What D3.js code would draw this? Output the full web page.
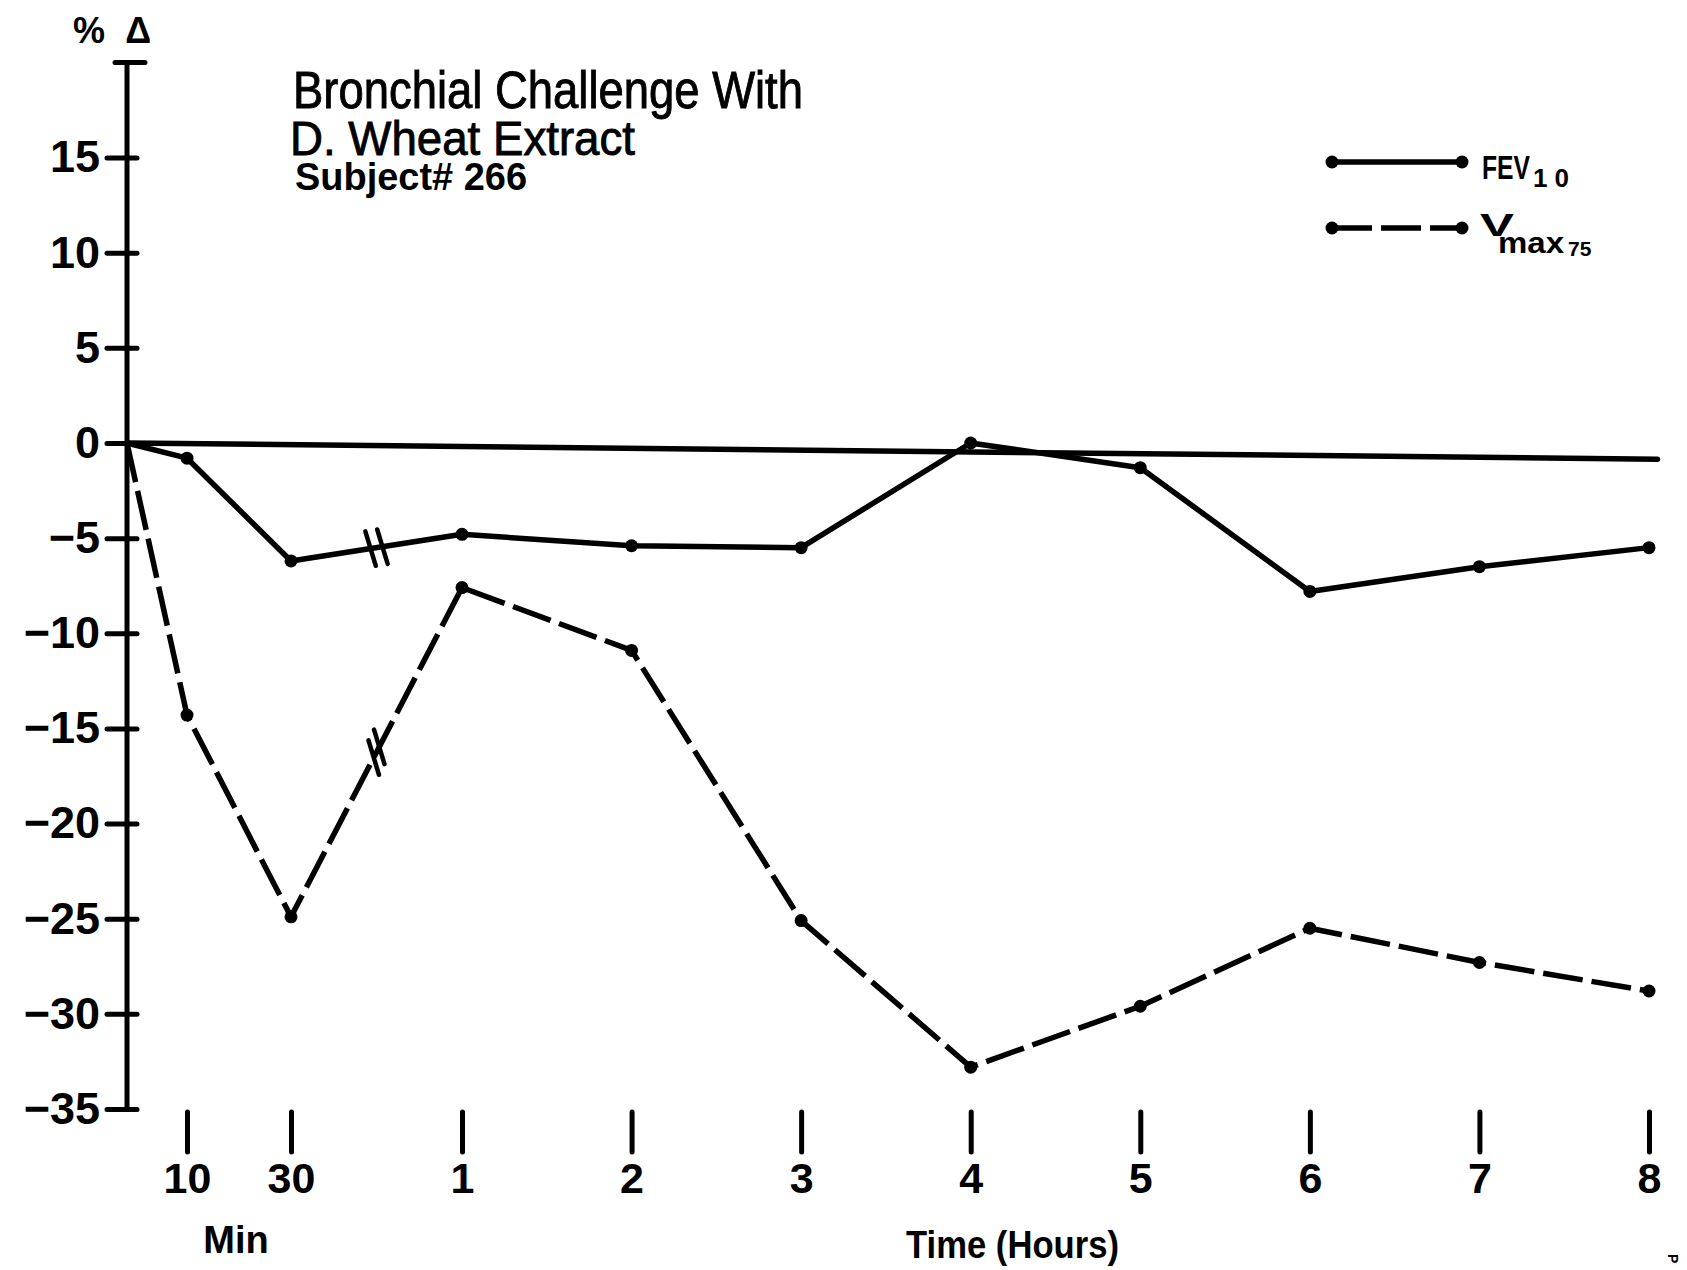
<!DOCTYPE html>
<html>
<head>
<meta charset="utf-8">
<script src="https://cdn.jsdelivr.net/npm/d3@7"></script>
<style>
  body { margin: 0; background: #fff; }
  text { font-family: 'Liberation Sans', Arial, sans-serif; fill: #000; }
</style>
</head>
<body>
<script>
// time of each reading, in minutes after challenge
const minutes = [0, 10, 30, 60, 120, 180, 240, 300, 360, 420, 480]
// % change from baseline
const fev = [0, -0.8, -6.2, -4.8, -5.4, -5.5, 0, -1.3, -7.8, -6.5, -5.5]
const vmax = [0, -14.3, -24.9, -7.6, -10.9, -25.1, -32.8, -29.6, -25.5, -27.3, -28.8]

const xTickMinutes = [10, 30, 60, 120, 180, 240, 300, 360, 420, 480]
const xTickLabels = ['10', '30', '1', '2', '3', '4', '5', '6', '7', '8']
const yTicks = [15, 10, 5, 0, -5, -10, -15, -20, -25, -30, -35]

// hand drawn reference line, slightly off level
const zeroMinutes = [0, 483]
const zeroValues = [0, -0.85]

const svg = d3.select('body').append('svg')
  .attr('width', 1687)
  .attr('height', 1270)

// broken axis: minutes part stretched, then hours evenly spaced
const x = d3.scaleLinear()
  .domain([0, 10, 30, 60, 480])
  .range([127, 187, 291, 462, 1649])

const y = d3.scaleLinear()
  .domain([-35, 20])
  .range([1109, 443 - 20 * 19.03])

const axisX = 127

// y axis
const yAxis = svg.append('g')
  .attr('transform', `translate(${axisX},0)`)
  .call(d3.axisLeft(y).tickValues(yTicks).tickSize(20).tickPadding(7)
    .tickFormat((d) => d < 0 ? '\u2212' + Math.abs(d) : d))

yAxis.select('.domain').remove()
yAxis.selectAll('.tick line')
  .attr('x1', 10)
  .attr('stroke', '#000')
  .attr('stroke-width', 5)
  .attr('stroke-linecap', 'round')
yAxis.selectAll('.tick text')
  .attr('font-size', 45)
  .attr('font-family', 'Liberation Sans')
  .attr('font-weight', 'bold')

svg.append('line')
  .attr('x1', axisX).attr('x2', axisX)
  .attr('y1', y(20)).attr('y2', y(-35))
  .attr('stroke', '#000').attr('stroke-width', 5)

svg.append('line')
  .attr('x1', axisX - 12).attr('x2', axisX + 18)
  .attr('y1', y(20)).attr('y2', y(20))
  .attr('stroke', '#000').attr('stroke-width', 5).attr('stroke-linecap', 'round')

svg.append('text')
  .attr('x', 73).attr('y', 43)
  .attr('font-size', 36).attr('font-weight', 'bold')
  .attr('textLength', 78).attr('lengthAdjust', 'spacing')
  .text('%\u0394')

// x axis, ticks only
const xAxis = svg.append('g')
  .attr('transform', 'translate(0,1112)')
  .call(d3.axisBottom(x).tickValues(xTickMinutes).tickSize(40).tickPadding(10)
    .tickFormat((d, i) => xTickLabels[i]))

xAxis.select('.domain').remove()
xAxis.selectAll('.tick line')
  .attr('stroke', '#000')
  .attr('stroke-width', 5)
  .attr('stroke-linecap', 'round')
xAxis.selectAll('.tick text')
  .attr('font-size', 43)
  .attr('font-family', 'Liberation Sans')
  .attr('font-weight', 'bold')

svg.append('text')
  .attr('x', 236).attr('y', 1253)
  .attr('text-anchor', 'middle')
  .attr('font-size', 38).attr('font-weight', 'bold')
  .text('Min')

svg.append('text')
  .attr('x', 906).attr('y', 1258)
  .attr('font-size', 38).attr('font-weight', 'bold')
  .attr('textLength', 213).attr('lengthAdjust', 'spacingAndGlyphs')
  .text('Time (Hours)')

// title block
svg.append('text')
  .attr('x', 293).attr('y', 108)
  .attr('font-size', 51)
  .attr('stroke', '#000').attr('stroke-width', 0.9)
  .attr('textLength', 510).attr('lengthAdjust', 'spacingAndGlyphs')
  .text('Bronchial Challenge With')

svg.append('text')
  .attr('x', 290).attr('y', 155)
  .attr('font-size', 49)
  .attr('stroke', '#000').attr('stroke-width', 0.9)
  .attr('textLength', 345).attr('lengthAdjust', 'spacingAndGlyphs')
  .text('D. Wheat Extract')

svg.append('text')
  .attr('x', 295).attr('y', 190)
  .attr('font-size', 38).attr('font-weight', 'bold')
  .attr('textLength', 232).attr('lengthAdjust', 'spacingAndGlyphs')
  .text('Subject# 266')

// zero reference line
const zeroPts = zeroMinutes.map((m, i) => [x(m), y(zeroValues[i])])
svg.append('path')
  .attr('d', d3.line()(zeroPts))
  .attr('fill', 'none')
  .attr('stroke', '#000')
  .attr('stroke-width', 5.5)
  .attr('stroke-linecap', 'round')

const series = [
  { values: fev, dash: null },
  { values: vmax, dash: '40,9' }
]

const line = d3.line()
  .x((d) => x(d.m))
  .y((d) => y(d.v))

series.forEach((s) => {
  const pts = minutes.map((m, i) => ({ m: m, v: s.values[i] }))

  svg.append('path')
    .attr('d', line(pts))
    .attr('fill', 'none')
    .attr('stroke', '#000')
    .attr('stroke-width', 5.5)
    .attr('stroke-linejoin', 'round')
    .attr('stroke-dasharray', s.dash)

  svg.selectAll(null)
    .data(pts.slice(1))
    .enter()
    .append('circle')
    .attr('cx', (d) => x(d.m))
    .attr('cy', (d) => y(d.v))
    .attr('r', 6.5)
    .attr('fill', '#000')

  // axis break mark on the 30 min - 1 h segment
  const a = pts[2]
  const b = pts[3]
  const mx = (x(a.m) + x(b.m)) / 2
  const my = (y(a.v) + y(b.v)) / 2
  const len = Math.hypot(x(b.m) - x(a.m), y(b.v) - y(a.v))
  const ux = (x(b.m) - x(a.m)) / len
  const uy = (y(b.v) - y(a.v)) / len
  ;[-6, 6].forEach((o) => {
    const cx = mx + ux * o
    const cy = my + uy * o
    svg.append('line')
      .attr('x1', cx - 0.29 * 18).attr('y1', cy - 0.957 * 18)
      .attr('x2', cx + 0.29 * 18).attr('y2', cy + 0.957 * 18)
      .attr('stroke', '#000')
      .attr('stroke-width', 4.5)
      .attr('stroke-linecap', 'round')
  })
})

// legend
const legend = svg.append('g')
const legendRows = [{ y: 162, dash: null }, { y: 228, dash: '40,9' }]
legendRows.forEach((r) => {
  legend.append('line')
    .attr('x1', 1332).attr('x2', 1462)
    .attr('y1', r.y).attr('y2', r.y)
    .attr('stroke', '#000').attr('stroke-width', 5.5)
    .attr('stroke-dasharray', r.dash)
  ;[1332, 1462].forEach((cx) => {
    legend.append('circle')
      .attr('cx', cx).attr('cy', r.y).attr('r', 6.5).attr('fill', '#000')
  })
})

legend.append('text')
  .attr('x', 1482).attr('y', 179)
  .attr('font-size', 33).attr('font-weight', 'bold')
  .attr('textLength', 48).attr('lengthAdjust', 'spacingAndGlyphs')
  .text('FEV')
legend.append('text')
  .attr('x', 1533).attr('y', 187)
  .attr('font-size', 26).attr('font-weight', 'bold')
  .attr('textLength', 36).attr('lengthAdjust', 'spacing')
  .text('10')

legend.append('text')
  .attr('x', 1480).attr('y', 236)
  .attr('font-size', 31).attr('font-weight', 'bold')
  .attr('textLength', 34).attr('lengthAdjust', 'spacingAndGlyphs')
  .text('V')
legend.append('text')
  .attr('x', 1498).attr('y', 253)
  .attr('font-size', 30).attr('font-weight', 'bold')
  .attr('textLength', 66).attr('lengthAdjust', 'spacingAndGlyphs')
  .text('max')
legend.append('text')
  .attr('x', 1568).attr('y', 256)
  .attr('font-size', 21).attr('font-weight', 'bold')
  .text('75')

svg.append('text')
  .attr('transform', 'translate(1668,1254) rotate(90)')
  .attr('font-size', 14).attr('font-weight', 'bold')
  .text('P')
</script>
</body>
</html>
